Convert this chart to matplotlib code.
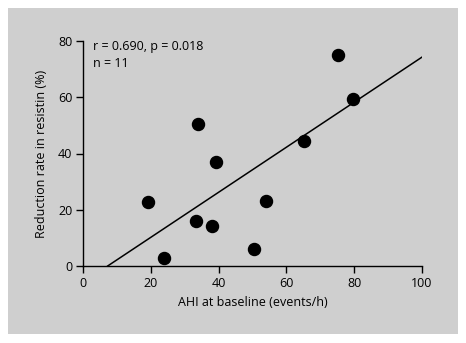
import matplotlib
matplotlib.use('Agg')
import matplotlib.pyplot as plt

# AHI at baseline vs reduction rate in resistin
ahi = [19.2, 23.8, 33.2, 34.0, 38.1, 39.1, 50.3, 53.9, 65.1, 75.2, 79.7]
reduction = [22.9, 2.7, 16.0, 50.5, 14.3, 37.0, 6.0, 23.2, 44.3, 75.0, 59.4]
fit_x = [7.2, 100]
fit_y = [0, 74.2]
xticks = [0, 20, 40, 60, 80, 100]
yticks = [0, 20, 40, 60, 80]

plt.rcParams['font.family'] = ['Open Sans', 'DejaVu Sans']
fs = 9

W, H = 466, 343
fig = plt.figure(figsize=(W / 100, H / 100), dpi=100, facecolor='white')
# grey panel behind the plot
bg = fig.add_axes([8 / W, 1 - 334 / H, 450 / W, 326 / H], zorder=0)
bg.set_facecolor('#cfcfcf')
bg.set_xticks([])
bg.set_yticks([])
for s in bg.spines.values():
    s.set_visible(False)

ax = fig.add_axes([83.3 / W, 1 - 266 / H, (421.7 - 83.3) / W, (266 - 41) / H], zorder=1)
ax.set_facecolor('none')
ax.plot(fit_x, fit_y, color='black', linewidth=1.1)
ax.scatter(ahi, reduction, s=75, color='black', zorder=3, clip_on=False)

ax.set_xlim(0, 100)
ax.set_ylim(0, 80)
ax.set_xticks(xticks)
ax.set_yticks(yticks)
for s in ['top', 'right']:
    ax.spines[s].set_visible(False)
for s in ['left', 'bottom']:
    ax.spines[s].set_linewidth(1.0)
ax.tick_params(direction='out', length=5, width=1.0, pad=3, labelsize=fs)
ax.set_xlabel('AHI at baseline (events/h)', fontsize=fs, labelpad=4)
ax.set_ylabel('Reduction rate in resistin (%)', fontsize=fs, labelpad=7)

ax.text(0.03, 0.975, 'r = 0.690, p = 0.018', transform=ax.transAxes,
        va='center', ha='left', fontsize=fs)
ax.text(0.03, 0.901, 'n = 11', transform=ax.transAxes,
        va='center', ha='left', fontsize=fs)

fig.savefig('out.png', dpi=100, facecolor='white')
